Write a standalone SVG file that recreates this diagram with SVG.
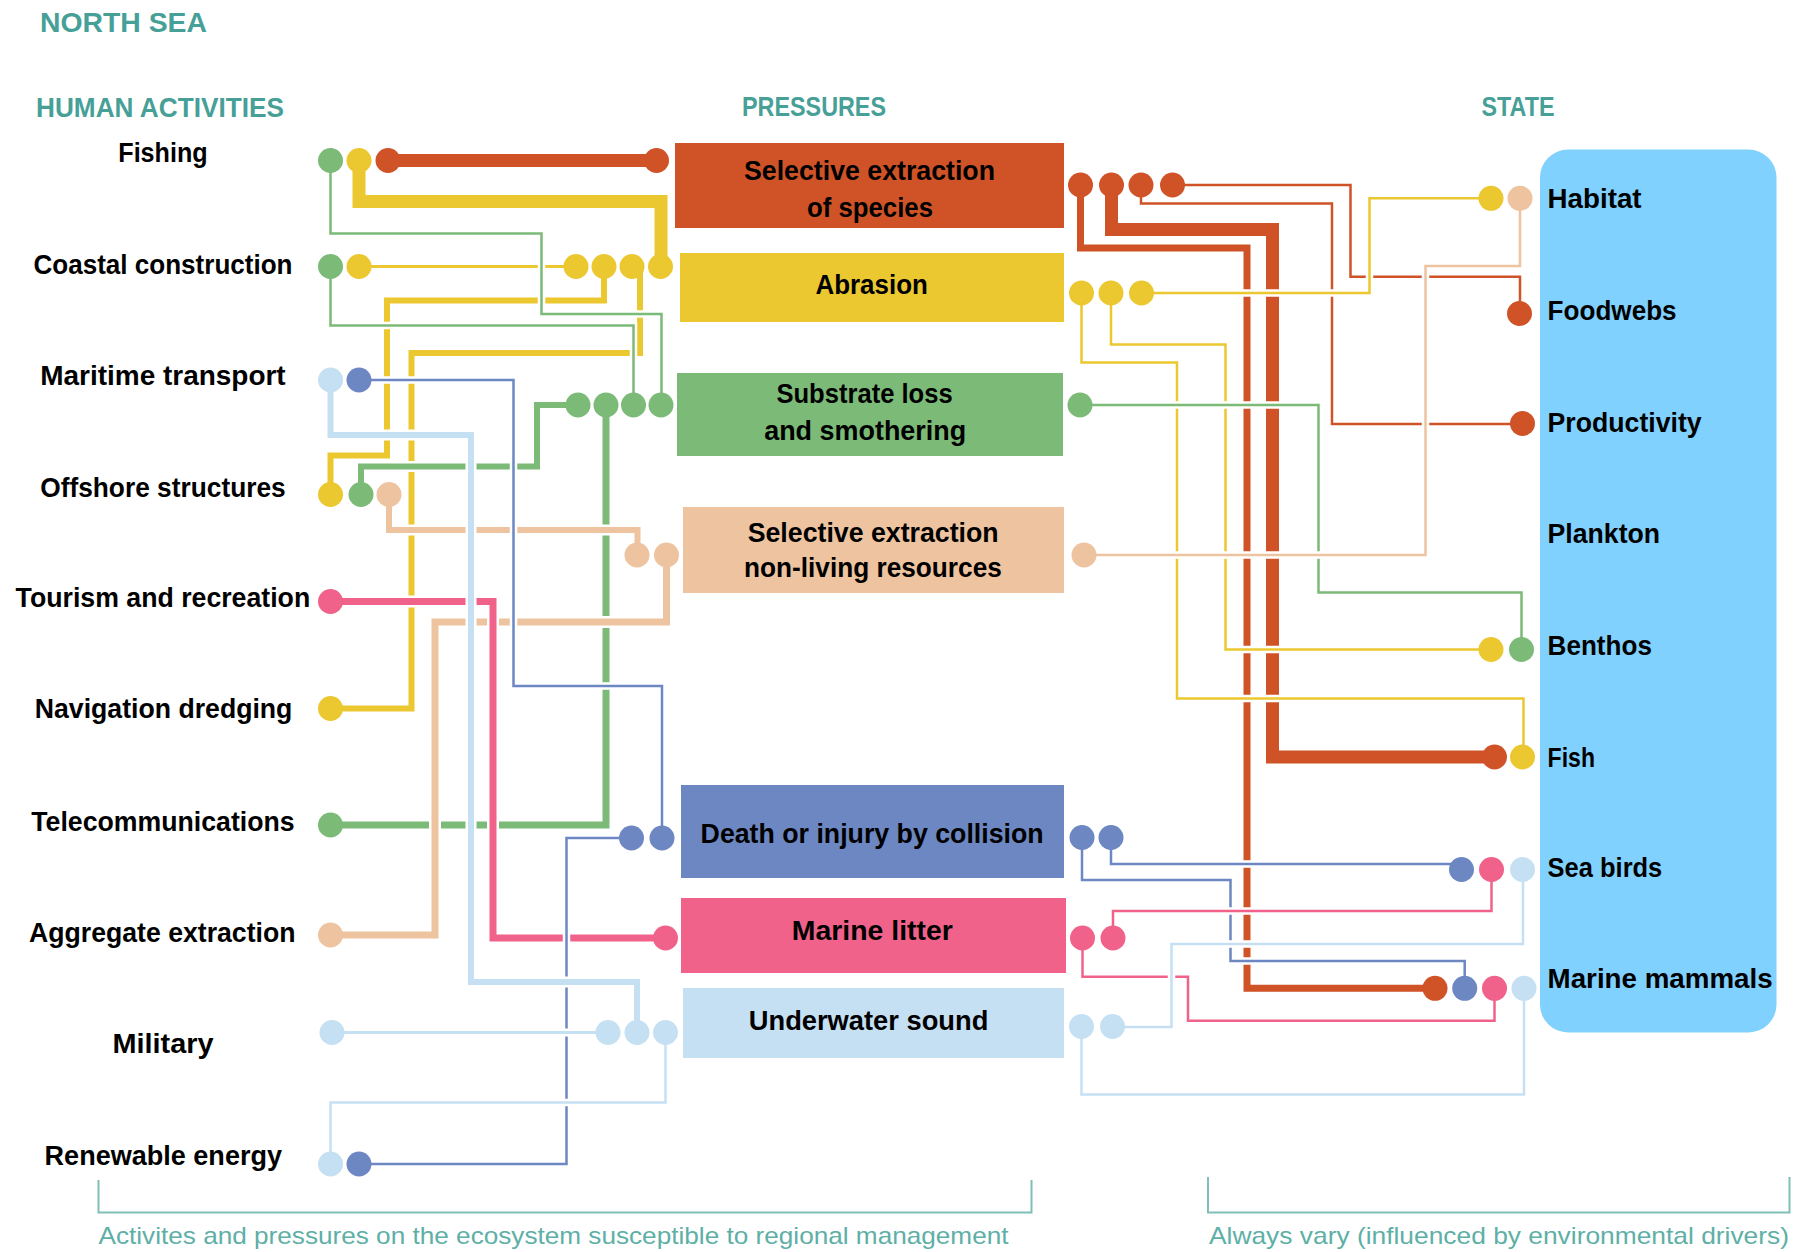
<svg xmlns="http://www.w3.org/2000/svg" xmlns:xlink="http://www.w3.org/1999/xlink" width="1793" height="1252" viewBox="0 0 1793 1252">
<style>
text{font-family:"Liberation Sans",Arial,sans-serif}
.hdr{font-size:28px;font-weight:700;fill:#47A097}
.lbl{font-size:27px;font-weight:700;fill:#000}
.note{font-size:24px;fill:#5EAFA6}
.halo{fill:none;stroke:#fff}
.ln{fill:none}
.o{stroke:#D05327}.y{stroke:#EBC730}.g{stroke:#7CBA78}.p{stroke:#EEC39F}.b{stroke:#6C87C2}.k{stroke:#F0628A}.l{stroke:#C5E0F3}
.fo{fill:#D05327}.fy{fill:#EBC730}.fg{fill:#7CBA78}.fp{fill:#EEC39F}.fb{fill:#6C87C2}.fk{fill:#F0628A}.fl{fill:#C5E0F3}
.w2{stroke-width:2.5}.w3{stroke-width:3}.w6{stroke-width:6}.w7{stroke-width:7}.w13{stroke-width:13}
.h2{stroke-width:7.5}.h3{stroke-width:8}.h6{stroke-width:11}.h7{stroke-width:12}.h13{stroke-width:18}
.brk{fill:none;stroke:#7FBFB5;stroke-width:2}
</style>
<defs>
<path id="c1" d="M388,160.5 H656.5"/>
<path id="c2" d="M359,160.5 V201.5 H661 V266.5"/>
<path id="c3" d="M359,266.5 H576"/>
<path id="c4" d="M330.5,494.5 V455.5 H387 V300.5 H604 V266.5"/>
<path id="c5" d="M330.5,708.5 H411.5 V353 H640 V266.5"/>
<path id="c6" d="M330.5,160.5 V233.5 H541.5 V314 H661.5 V405"/>
<path id="c7" d="M330.5,266.5 V325.5 H633.5 V405"/>
<path id="c8" d="M361,494.5 V466.5 H537 V405 H578"/>
<path id="c9" d="M330.5,825 H606 V405"/>
<path id="c10" d="M389,494.5 V530 H637.5 V555"/>
<path id="c11" d="M330.5,935 H435 V622 H666.5 V555"/>
<path id="c12" d="M330.5,601.5 H493 V938 H665.5"/>
<path id="c13" d="M359,380 H513.5 V686 H662 V838"/>
<path id="c14" d="M359,1164 H566.5 V838 H631.5"/>
<path id="c15" d="M330.5,380 V435 H471 V982 H637 V1032.5"/>
<path id="c16" d="M332,1032.5 H608"/>
<path id="c17" d="M330.5,1164 V1102.5 H665.5 V1032.5"/>
<path id="r1" d="M1080.5,185 V248 H1247 V988.3 H1435"/>
<path id="r2" d="M1111.5,185 V229.5 H1272.5 V757 H1494.5"/>
<path id="r3" d="M1141,185 V203.5 H1332 V424 H1522.5"/>
<path id="r4" d="M1172.5,185 H1350.5 V276.7 H1520 V313.5"/>
<path id="r5" d="M1081.5,293 V362.5 H1177 V698.5 H1523.5 V757"/>
<path id="r6" d="M1111,293 V344.5 H1225.5 V649.5 H1491"/>
<path id="r7" d="M1141.5,293 H1369.5 V198.3 H1491"/>
<path id="r8" d="M1080,405 H1318.5 V592.5 H1521.5 V649.5"/>
<path id="r9" d="M1084,555 H1425.5 V266 H1520 V198.3"/>
<path id="r10" d="M1082,837.5 V880 H1230.5 V961 H1464.7 V988.3"/>
<path id="r11" d="M1111,837.5 V864 H1461.5"/>
<path id="r12" d="M1113,938 V911 H1491.5 V869.5"/>
<path id="r13" d="M1082.5,938 V976.7 H1188 V1020.7 H1494.5 V988.3"/>
<path id="r14" d="M1112.5,1027 H1171.5 V944 H1523 V869.5"/>
<path id="r15" d="M1081.5,1026.5 V1094.5 H1524 V988.3"/>
</defs>
<rect x="0" y="0" width="1793" height="1252" fill="#fff"/>

<g id="headers">
<text class="hdr" x="40" y="32" textLength="167" lengthAdjust="spacingAndGlyphs">NORTH SEA</text>
<text class="hdr" x="36" y="116.5" textLength="248" lengthAdjust="spacingAndGlyphs">HUMAN ACTIVITIES</text>
<text class="hdr" x="742" y="116" textLength="144" lengthAdjust="spacingAndGlyphs">PRESSURES</text>
<text class="hdr" x="1481.5" y="115.5" textLength="73" lengthAdjust="spacingAndGlyphs">STATE</text>
</g>

<g id="state-panel">
<rect x="1540" y="149.5" width="236.5" height="883" rx="28" ry="28" fill="#80D1FE"/>
</g>

<g id="connectors">
<use href="#c1" class="halo h13"/><use href="#c1" class="ln o w13"/>
<use href="#c2" class="halo h13"/><use href="#c2" class="ln y w13"/>
<use href="#c3" class="halo h3"/><use href="#c3" class="ln y w3"/>
<use href="#c4" class="halo h6"/><use href="#c4" class="ln y w6"/>
<use href="#c5" class="halo h6"/><use href="#c5" class="ln y w6"/>
<use href="#c6" class="halo h2"/><use href="#c6" class="ln g w2"/>
<use href="#c7" class="halo h2"/><use href="#c7" class="ln g w2"/>
<use href="#c8" class="halo h6"/><use href="#c8" class="ln g w6"/>
<use href="#c9" class="halo h7"/><use href="#c9" class="ln g w7"/>
<use href="#c10" class="halo h6"/><use href="#c10" class="ln p w6"/>
<use href="#c11" class="halo h7"/><use href="#c11" class="ln p w7"/>
<use href="#c12" class="halo h7"/><use href="#c12" class="ln k w7"/>
<use href="#c13" class="halo h2"/><use href="#c13" class="ln b w2"/>
<use href="#c14" class="halo h2"/><use href="#c14" class="ln b w2"/>
<use href="#c15" class="halo h6"/><use href="#c15" class="ln l w6"/>
<use href="#c16" class="halo h3"/><use href="#c16" class="ln l w3"/>
<use href="#c17" class="halo h2"/><use href="#c17" class="ln l w2"/>

<use href="#r1" class="halo h7"/><use href="#r1" class="ln o w7"/>
<use href="#r2" class="halo h13"/><use href="#r2" class="ln o w13"/>
<use href="#r3" class="halo h2"/><use href="#r3" class="ln o w2"/>
<use href="#r4" class="halo h2"/><use href="#r4" class="ln o w2"/>
<use href="#r5" class="halo h2"/><use href="#r5" class="ln y w2"/>
<use href="#r6" class="halo h2"/><use href="#r6" class="ln y w2"/>
<use href="#r7" class="halo h2"/><use href="#r7" class="ln y w2"/>
<use href="#r8" class="halo h2"/><use href="#r8" class="ln g w2"/>
<use href="#r9" class="halo h2"/><use href="#r9" class="ln p w2"/>
<use href="#r10" class="halo h2"/><use href="#r10" class="ln b w2"/>
<use href="#r11" class="halo h2"/><use href="#r11" class="ln b w2"/>
<use href="#r12" class="halo h2"/><use href="#r12" class="ln k w2"/>
<use href="#r13" class="halo h2"/><use href="#r13" class="ln k w2"/>
<use href="#r14" class="halo h2"/><use href="#r14" class="ln l w2"/>
<use href="#r15" class="halo h2"/><use href="#r15" class="ln l w2"/>
</g>

<g id="act-fishing">
<text class="lbl" x="118.3" y="161.5" textLength="89.3" lengthAdjust="spacingAndGlyphs">Fishing</text>
<circle class="fg" cx="330.5" cy="160.5" r="12.5"/><circle class="fy" cx="359" cy="160.5" r="12.5"/><circle class="fo" cx="388" cy="160.5" r="12.5"/>
</g>
<g id="act-coastal-construction">
<text class="lbl" x="33.5" y="273.5" textLength="259" lengthAdjust="spacingAndGlyphs">Coastal construction</text>
<circle class="fg" cx="330.5" cy="266.5" r="12.5"/><circle class="fy" cx="359" cy="266.5" r="12.5"/>
</g>
<g id="act-maritime-transport">
<text class="lbl" x="40.2" y="384.5" textLength="245.5" lengthAdjust="spacingAndGlyphs">Maritime transport</text>
<circle class="fl" cx="330.5" cy="380" r="12.5"/><circle class="fb" cx="359" cy="380" r="12.5"/>
</g>
<g id="act-offshore-structures">
<text class="lbl" x="40.2" y="496.5" textLength="245.5" lengthAdjust="spacingAndGlyphs">Offshore structures</text>
<circle class="fy" cx="330.5" cy="494.5" r="12.5"/><circle class="fg" cx="361" cy="494.5" r="12.5"/><circle class="fp" cx="389" cy="494.5" r="12.5"/>
</g>
<g id="act-tourism">
<text class="lbl" x="15.6" y="607" textLength="294.6" lengthAdjust="spacingAndGlyphs">Tourism and recreation</text>
<circle class="fk" cx="330.5" cy="601.5" r="12.5"/>
</g>
<g id="act-navigation-dredging">
<text class="lbl" x="34.8" y="718" textLength="257.6" lengthAdjust="spacingAndGlyphs">Navigation dredging</text>
<circle class="fy" cx="330.5" cy="708.5" r="12.5"/>
</g>
<g id="act-telecommunications">
<text class="lbl" x="31.3" y="830.5" textLength="263.3" lengthAdjust="spacingAndGlyphs">Telecommunications</text>
<circle class="fg" cx="330.5" cy="825" r="12.5"/>
</g>
<g id="act-aggregate-extraction">
<text class="lbl" x="29" y="941.5" textLength="266.5" lengthAdjust="spacingAndGlyphs">Aggregate extraction</text>
<circle class="fp" cx="330.5" cy="935" r="12.5"/>
</g>
<g id="act-military">
<text class="lbl" x="112.5" y="1053" textLength="101" lengthAdjust="spacingAndGlyphs">Military</text>
<circle class="fl" cx="332" cy="1032.5" r="12.5"/>
</g>
<g id="act-renewable-energy">
<text class="lbl" x="44.6" y="1165" textLength="237.4" lengthAdjust="spacingAndGlyphs">Renewable energy</text>
<circle class="fl" cx="330.5" cy="1164" r="12.5"/><circle class="fb" cx="359" cy="1164" r="12.5"/>
</g>

<g id="pr-selective-extraction-species">
<rect class="fo" x="675" y="143" width="389" height="85"/>
<text class="lbl" x="744" y="180" textLength="251" lengthAdjust="spacingAndGlyphs">Selective extraction</text>
<text class="lbl" x="807" y="216.7" textLength="126" lengthAdjust="spacingAndGlyphs">of species</text>
<circle class="fo" cx="656.5" cy="160.5" r="12.5"/>
<circle class="fo" cx="1080.5" cy="185" r="12.5"/><circle class="fo" cx="1111.5" cy="185" r="12.5"/><circle class="fo" cx="1141" cy="185" r="12.5"/><circle class="fo" cx="1172.5" cy="185" r="12.5"/>
</g>
<g id="pr-abrasion">
<rect class="fy" x="680" y="253" width="384" height="69"/>
<text class="lbl" x="815.5" y="294.3" textLength="112.3" lengthAdjust="spacingAndGlyphs">Abrasion</text>
<circle class="fy" cx="576" cy="266.5" r="12.5"/><circle class="fy" cx="604" cy="266.5" r="12.5"/><circle class="fy" cx="632" cy="266.5" r="12.5"/><circle class="fy" cx="660.5" cy="266.5" r="12.5"/>
<circle class="fy" cx="1081.5" cy="293" r="12.5"/><circle class="fy" cx="1111" cy="293" r="12.5"/><circle class="fy" cx="1141.5" cy="293" r="12.5"/>
</g>
<g id="pr-substrate-loss">
<rect class="fg" x="677" y="373" width="386" height="83"/>
<text class="lbl" x="776.4" y="402.7" textLength="176.3" lengthAdjust="spacingAndGlyphs">Substrate loss</text>
<text class="lbl" x="764.2" y="440" textLength="202" lengthAdjust="spacingAndGlyphs">and smothering</text>
<circle class="fg" cx="578" cy="405" r="12.5"/><circle class="fg" cx="606" cy="405" r="12.5"/><circle class="fg" cx="633.5" cy="405" r="12.5"/><circle class="fg" cx="661" cy="405" r="12.5"/>
<circle class="fg" cx="1080" cy="405" r="12.5"/>
</g>
<g id="pr-selective-extraction-nonliving">
<rect class="fp" x="683" y="507" width="381" height="86"/>
<text class="lbl" x="747.7" y="541.7" textLength="251" lengthAdjust="spacingAndGlyphs">Selective extraction</text>
<text class="lbl" x="744" y="577.3" textLength="257.8" lengthAdjust="spacingAndGlyphs">non-living resources</text>
<circle class="fp" cx="637" cy="555" r="12.5"/><circle class="fp" cx="666.5" cy="555" r="12.5"/>
<circle class="fp" cx="1084" cy="555" r="12.5"/>
</g>
<g id="pr-death-injury-collision">
<rect class="fb" x="681" y="785" width="383" height="93"/>
<text class="lbl" x="700.6" y="842.7" textLength="343" lengthAdjust="spacingAndGlyphs">Death or injury by collision</text>
<circle class="fb" cx="631.5" cy="838" r="12.5"/><circle class="fb" cx="662" cy="838" r="12.5"/>
<circle class="fb" cx="1082" cy="837.5" r="12.5"/><circle class="fb" cx="1111" cy="837.5" r="12.5"/>
</g>
<g id="pr-marine-litter">
<rect class="fk" x="681" y="898" width="385" height="75"/>
<text class="lbl" x="791.8" y="940" textLength="161" lengthAdjust="spacingAndGlyphs">Marine litter</text>
<circle class="fk" cx="665.5" cy="938" r="12.5"/>
<circle class="fk" cx="1082.5" cy="938" r="12.5"/><circle class="fk" cx="1113" cy="938" r="12.5"/>
</g>
<g id="pr-underwater-sound">
<rect class="fl" x="683" y="988" width="381" height="70"/>
<text class="lbl" x="748.8" y="1030" textLength="239.5" lengthAdjust="spacingAndGlyphs">Underwater sound</text>
<circle class="fl" cx="608" cy="1032.5" r="12.5"/><circle class="fl" cx="637" cy="1032.5" r="12.5"/><circle class="fl" cx="665.5" cy="1032.5" r="12.5"/>
<circle class="fl" cx="1081.5" cy="1026.5" r="12.5"/><circle class="fl" cx="1112.5" cy="1026.5" r="12.5"/>
</g>

<g id="st-habitat">
<text class="lbl" x="1547.6" y="208.3" textLength="94" lengthAdjust="spacingAndGlyphs">Habitat</text>
<circle class="fy" cx="1491" cy="198.3" r="12.5"/><circle class="fp" cx="1520" cy="198.3" r="12.5"/>
</g>
<g id="st-foodwebs">
<text class="lbl" x="1547.6" y="320" textLength="129" lengthAdjust="spacingAndGlyphs">Foodwebs</text>
<circle class="fo" cx="1519.5" cy="313.5" r="12.5"/>
</g>
<g id="st-productivity">
<text class="lbl" x="1547.6" y="431.7" textLength="154" lengthAdjust="spacingAndGlyphs">Productivity</text>
<circle class="fo" cx="1522.5" cy="423.5" r="12.5"/>
</g>
<g id="st-plankton">
<text class="lbl" x="1547.6" y="542.7" textLength="112.5" lengthAdjust="spacingAndGlyphs">Plankton</text>
</g>
<g id="st-benthos">
<text class="lbl" x="1547.6" y="655" textLength="104.3" lengthAdjust="spacingAndGlyphs">Benthos</text>
<circle class="fy" cx="1491" cy="649.5" r="12.5"/><circle class="fg" cx="1521.5" cy="649.5" r="12.5"/>
</g>
<g id="st-fish">
<text class="lbl" x="1547.6" y="766.7" textLength="47.4" lengthAdjust="spacingAndGlyphs">Fish</text>
<circle class="fo" cx="1494.5" cy="757" r="12.5"/><circle class="fy" cx="1522.5" cy="757" r="12.5"/>
</g>
<g id="st-sea-birds">
<text class="lbl" x="1547.6" y="876.7" textLength="114.7" lengthAdjust="spacingAndGlyphs">Sea birds</text>
<circle class="fb" cx="1461.5" cy="869.5" r="12.5"/><circle class="fk" cx="1491.5" cy="869.5" r="12.5"/><circle class="fl" cx="1522.5" cy="869.5" r="12.5"/>
</g>
<g id="st-marine-mammals">
<text class="lbl" x="1547.6" y="988.3" textLength="225" lengthAdjust="spacingAndGlyphs">Marine mammals</text>
<circle class="fo" cx="1435" cy="988.3" r="12.5"/><circle class="fb" cx="1464.7" cy="988.3" r="12.5"/><circle class="fk" cx="1494.5" cy="988.3" r="12.5"/><circle class="fl" cx="1524" cy="988.3" r="12.5"/>
</g>

<g id="brackets">
<path class="brk" d="M98.5,1180 V1212.5 H1031.5 V1180"/>
<path class="brk" d="M1208,1177 V1212.5 H1789.5 V1177"/>
<text class="note" x="98.5" y="1243.5" textLength="910" lengthAdjust="spacingAndGlyphs">Activites and pressures on the ecosystem susceptible to regional management</text>
<text class="note" x="1209" y="1243.5" textLength="580" lengthAdjust="spacingAndGlyphs">Always vary (influenced by environmental drivers)</text>
</g>
</svg>
